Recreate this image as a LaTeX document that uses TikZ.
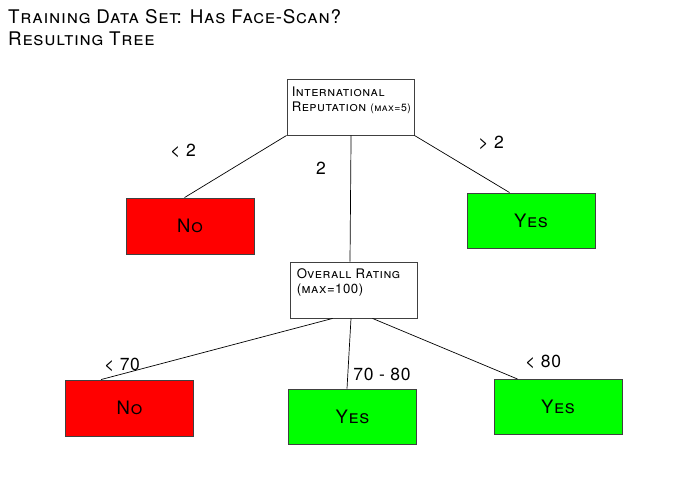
\documentclass[tikz,border=0pt]{standalone}
\usepackage{fontspec}
\setmainfont{TeX Gyre Heros}[LetterSpace=4]
\usetikzlibrary{calc}
\definecolor{boxred}{HTML}{FF0000}
\definecolor{boxgreen}{HTML}{00FF00}
\definecolor{edge}{HTML}{404040}
\tikzset{
  tbox/.style={draw=edge, line width=0.9pt, rectangle, inner sep=0pt},
  redbox/.style={tbox, fill=boxred, minimum width=128pt, minimum height=56pt, font=\fontsize{18.5}{20}\selectfont\scshape},
  greenbox/.style={tbox, fill=boxgreen, minimum width=128pt, minimum height=55pt, font=\fontsize{18.5}{20}\selectfont\scshape},
  qbox/.style={tbox, fill=white, minimum width=127pt, minimum height=56pt},
  qtext/.style={anchor=north west, inner sep=0pt, align=left, font=\fontsize{13.2}{15}\selectfont\scshape},
  elabel/.style={inner sep=0pt, font=\fontsize{17.5}{19}\selectfont},
  conn/.style={draw=black, line width=0.7pt},
  title/.style={anchor=base west, inner sep=0pt, font=\fontsize{18.8}{22}\selectfont\scshape}
}
\begin{document}
\begin{tikzpicture}[x=1pt,y=-1pt]
\useasboundingbox[fill=white] (0,0) rectangle (695,494);
\node[title] (t1) at (8,24) {Training Data Set: Has Face-Scan?};
\node[title] (t2) at (8,46) {Resulting Tree};

\node[qbox] (root) at (350.5,107) {};
\node[qtext] (roottxt) at ([shift={(5pt,-8pt)}]root.north west) {International\\Reputation {\fontsize{10.5}{12}\selectfont(max=5)}};
\node[redbox] (no1) at (190,226) {No};
\node[greenbox] (yes1) at (531,220.5) {Yes};
\node[qbox] (rating) at (353.5,290) {};
\node[qtext] (ratingtxt) at ([shift={(7pt,-7pt)}]rating.north west) {Overall Rating\\(max=100)};
\node[redbox] (no2) at (129.5,408) {No};
\node[greenbox] (yes2) at (352.5,416.5) {Yes};
\node[greenbox] (yes3) at (558,407) {Yes};

\draw[conn] (root.south west) -- ([xshift=59pt]no1.north west);
\draw[conn] ([xshift=64.5pt]root.south west) -- ([xshift=-3.5pt]rating.north);
\draw[conn] (root.south east) -- ([xshift=43pt]yes1.north west);
\draw[conn] ([xshift=43pt]rating.south west) -- ([xshift=36pt]no2.north west);
\draw[conn] ([xshift=-2.5pt]rating.south) -- ([xshift=-5.5pt]yes2.north);
\draw[conn] ([xshift=83pt]rating.south west) -- ([xshift=24pt]yes3.north west);

\node[elabel] (l1) at (183,151) {< 2};
\node[elabel] (l2) at (321,168) {2};
\node[elabel] (l3) at (491,143) {> 2};
\node[elabel] (l4) at (122,365) {< 70};
\node[elabel] (l5) at (382,374) {70 - 80};
\node[elabel] (l6) at (543,362) {< 80};
\end{tikzpicture}
\end{document}
